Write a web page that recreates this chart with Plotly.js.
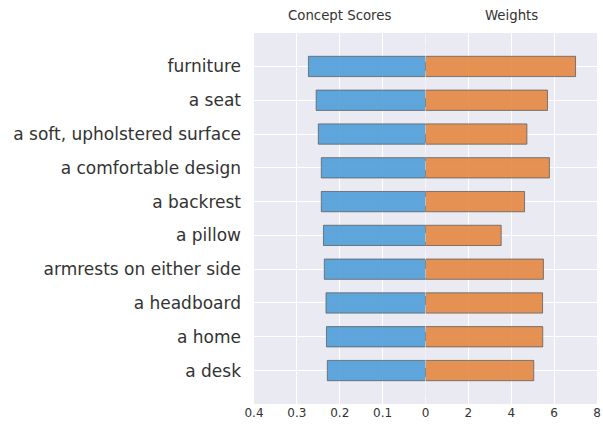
<!DOCTYPE html>
<html>
<head>
<meta charset="utf-8">
<script src="https://cdn.plot.ly/plotly-3.0.1.min.js"></script>
<style>html,body{margin:0;padding:0;background:#fff;}#chart{width:603px;height:428px;}</style>
</head>
<body>
<div id="chart"></div>
<script>
const categories = ["furniture","a seat","a soft, upholstered surface","a comfortable design","a backrest","a pillow","armrests on either side","a headboard","a home","a desk"];
const conceptScores = [0.273, 0.255, 0.250, 0.243, 0.243, 0.238, 0.236, 0.232, 0.231, 0.229];
const weights = [7.0, 5.69, 4.73, 5.78, 4.62, 3.53, 5.50, 5.46, 5.47, 5.05];
const leftTicks = [0.4, 0.3, 0.2, 0.1, 0];
const leftTickText = ["0.4","0.3","0.2","0.1","0"];
const rightTicks = [0, 2, 4, 6, 8];
const rightTickText = ["","2","4","6","8"];

const font = "DejaVu Sans, sans-serif";
const traces = [
  {type:'bar', orientation:'h', y:categories, x:conceptScores, xaxis:'x', yaxis:'y', width:0.6,
   marker:{color:'rgba(74,155,215,0.88)', line:{color:'rgba(90,90,90,0.75)', width:1}}, hoverinfo:'none'},
  {type:'bar', orientation:'h', y:categories, x:weights, xaxis:'x2', yaxis:'y2', width:0.6,
   marker:{color:'rgba(226,132,60,0.88)', line:{color:'rgba(90,90,90,0.75)', width:1}}, hoverinfo:'none'}
];
const yBase = {type:'category', categoryorder:'array', categoryarray:categories, range:[9.99, -0.99],
  showgrid:true, gridcolor:'#ffffff', gridwidth:1, zeroline:false, showline:false, ticks:''};
const layout = {
  width:603, height:428,
  margin:{l:254, r:6, t:33, b:24},
  paper_bgcolor:'#ffffff', plot_bgcolor:'#EAEAF2',
  showlegend:false, bargap:0.4,
  font:{family:font, color:'#333333'},
  xaxis:{domain:[0,0.5], range:[0.4,0], tickvals:leftTicks, ticktext:leftTickText, showgrid:true, gridcolor:'#ffffff', gridwidth:1.2,
    zeroline:false, showline:false, ticks:'', tickfont:{size:12, color:'#333333'}, fixedrange:true},
  xaxis2:{domain:[0.5,1], range:[0,8], tickvals:rightTicks, ticktext:rightTickText, showgrid:true, gridcolor:'#ffffff', gridwidth:1.2,
    zeroline:false, showline:false, ticks:'', tickfont:{size:12, color:'#333333'}, fixedrange:true, anchor:'y2'},
  yaxis:Object.assign({}, yBase, {anchor:'x', tickfont:{size:17, color:'#333333'}, ticklabelstandoff:12}),
  yaxis2:Object.assign({}, yBase, {anchor:'x2', showticklabels:false}),
  shapes:[
    {type:'line', xref:'x2', yref:'paper', x0:0, x1:0, y0:0, y1:1, line:{color:'rgba(255,255,255,0.9)', width:1, dash:'dash'}, layer:'above'}
  ],
  annotations:[
    {text:'Concept Scores', xref:'x domain', yref:'paper', x:0.5, y:1, yanchor:'bottom', xanchor:'center', showarrow:false, yshift:8, font:{size:13.3, color:'#333333'}},
    {text:'Weights', xref:'x2 domain', yref:'paper', x:0.5, y:1, yanchor:'bottom', xanchor:'center', showarrow:false, yshift:8, font:{size:13.3, color:'#333333'}}
  ]
};
Plotly.newPlot('chart', traces, layout, {staticPlot:true, displayModeBar:false});
</script>
</body>
</html>
